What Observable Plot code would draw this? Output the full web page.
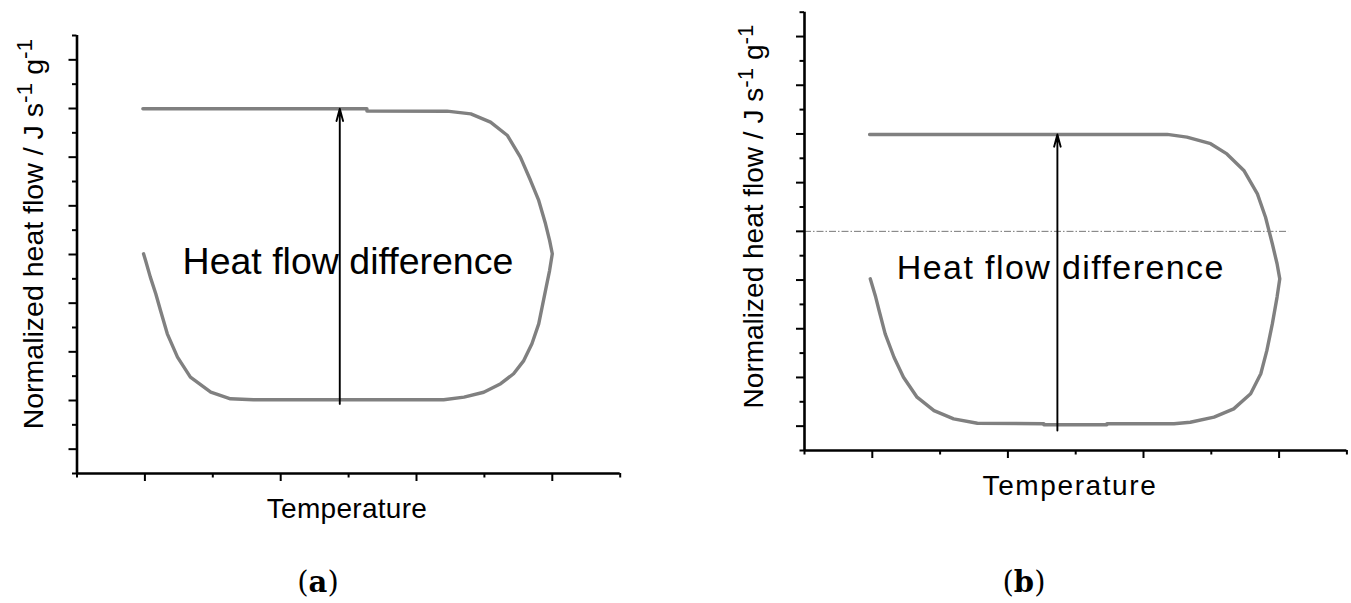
<!DOCTYPE html>
<html><head><meta charset="utf-8">
<script src="https://cdn.jsdelivr.net/npm/d3@7"></script>
<script src="https://cdn.jsdelivr.net/npm/@observablehq/plot@0.6"></script>
<style>
html,body{margin:0;padding:0;background:#fff;}
#wrap{position:relative;width:1351px;height:603px;overflow:hidden;}
#wrap svg{position:absolute;top:0;max-width:none;overflow:visible;}
.panel-label{position:absolute;top:568px;font-family:"DejaVu Serif","Liberation Serif",serif;font-size:29px;line-height:1;color:#000;transform:translateX(-50%);white-space:nowrap;}
.hfd-b text{letter-spacing:1.4px;}
</style></head><body><div id="wrap"></div>
<script>
// ---- data (tick units: x 0..8, y 0..18) ----
const leftCurveX = [0.97,4.27,4.27,5.45,5.80,6.09,6.34,6.53,6.68,6.80,6.90,6.96,7.00,6.96,6.91,6.85,6.80,6.70,6.58,6.43,6.24,5.99,5.70,5.40,2.60,2.26,1.97,1.67,1.48,1.33,1.23,1.16,1.08,1.01,0.98];
const leftCurveY = [14.99,14.99,14.90,14.89,14.78,14.44,13.89,13.00,12.04,11.22,10.26,9.58,9.03,8.34,7.66,6.84,6.15,5.33,4.64,4.10,3.69,3.34,3.14,3.03,3.03,3.07,3.34,3.96,4.78,5.74,6.70,7.39,8.07,8.75,9.03];
const rightCurveX = [0.96,5.35,5.64,5.99,6.23,6.48,6.68,6.80,6.90,6.97,7.01,6.97,6.90,6.82,6.73,6.58,6.33,6.04,5.69,5.45,4.46,4.46,3.53,3.53,2.55,2.20,1.91,1.66,1.46,1.32,1.19,1.10,1.05,0.97];
const rightCurveY = [12.98,12.98,12.87,12.60,12.18,11.50,10.54,9.58,8.49,7.67,7.05,6.30,5.20,4.11,3.15,2.33,1.71,1.37,1.16,1.10,1.10,1.06,1.06,1.10,1.12,1.30,1.64,2.19,3.01,3.83,4.79,5.75,6.30,7.05];
const arrowX = [3.87, 3.73];
const arrowBottom = [2.86, 0.82];
const arrowTop = [14.99, 12.98];
const annotText = ["Heat flow difference", "Heat flow difference"];
const annotX = [3.99, 3.78];
const annotY = [8.71, 7.50];
const dashLevel = [9];
const dashEnd = [7.14];
const xMajor = [1,3,5,7];
const xMinor = [0,2,4,6,8];
const yMajor = [1,3,5,7,9,11,13,15,17];
const yMinor = [0,2,4,6,8,10,12,14,16,18];
const xTitle = "Temperature";
const yTitleMain = "Normalized heat flow / J s";
const panelNames = ["a", "b"];

const wrap = document.getElementById("wrap");
const FONT = "'Liberation Sans', Arial, sans-serif";

function panel(cfg) {
  const curve = cfg.cx.map((x, i) => ({x, y: cfg.cy[i]}));
  const marks = [
    Plot.line(curve, {x: "x", y: "y", stroke: "#808080", strokeWidth: 3.4, strokeLinejoin: "round", strokeLinecap: "round"}),
    Plot.arrow([{x: cfg.ax, y1: cfg.ab, y2: cfg.at}], {x1: "x", x2: "x", y1: "y1", y2: "y2", stroke: "#000", strokeWidth: 1.9, headLength: 10, headAngle: 30}),
    Plot.text([{x: cfg.tx, y: cfg.ty, t: cfg.t}], {x: "x", y: "y", text: "t", fontSize: cfg.tsize, fontFamily: FONT, fill: "#000", textAnchor: "middle", lineAnchor: "middle", className: cfg.tclass}),
    Plot.ruleX([0], {stroke: "#000", strokeWidth: 2.6}),
    Plot.ruleY([0], {stroke: "#000", strokeWidth: 2.6}),
    Plot.axisX({ticks: xMajor, tickSize: 8, strokeWidth: 2, tickFormat: () => "", label: null}),
    Plot.axisX({ticks: xMinor, tickSize: 4.5, strokeWidth: 2, tickFormat: () => "", label: null}),
    Plot.axisY({ticks: yMajor, tickSize: 8, strokeWidth: 2, tickFormat: () => "", label: null}),
    Plot.axisY({ticks: yMinor, tickSize: 4.5, strokeWidth: 2, tickFormat: () => "", label: null})
  ];
  if (cfg.dash) {
    marks.unshift(Plot.ruleY(cfg.dash.map(d => ({y: d, x2: cfg.dashEnd})), {y: "y", x1: 0, x2: "x2", stroke: "#777", strokeWidth: 1, strokeDasharray: "7,2,1.5,2"}));
  }
  const svg = Plot.plot({
    width: cfg.width, height: cfg.height,
    marginLeft: cfg.ml, marginRight: cfg.mr, marginTop: cfg.mt, marginBottom: cfg.mb,
    x: {domain: [0, 8], label: null},
    y: {domain: [0, 18], label: null},
    style: {background: "transparent", fontFamily: FONT, overflow: "visible"},
    marks
  });
  svg.style.left = cfg.left + "px";
  wrap.appendChild(svg);
  const s = d3.select(svg);
  s.append("text")
    .attr("x", cfg.xl[0]).attr("y", cfg.xl[1])
    .attr("text-anchor", "middle").attr("font-family", FONT).attr("font-size", 28)
    .attr("letter-spacing", cfg.xls).attr("fill", "#000").text(xTitle);
  const fs = cfg.ysize;
  const t = s.append("text")
    .attr("transform", `translate(${cfg.yl[0]},${cfg.yl[1]}) rotate(-90)`)
    .attr("text-anchor", "middle").attr("font-family", FONT).attr("font-size", fs).attr("fill", "#000");
  t.append("tspan").text(yTitleMain);
  t.append("tspan").attr("dy", -0.37 * fs).attr("font-size", 0.8 * fs).text("-1");
  t.append("tspan").attr("dy", 0.37 * fs).text(" g");
  t.append("tspan").attr("dy", -0.37 * fs).attr("font-size", 0.8 * fs).text("-1");
}

panel({cx: leftCurveX, cy: leftCurveY, ax: arrowX[0], ab: arrowBottom[0], at: arrowTop[0],
  t: annotText[0], tx: annotX[0], ty: annotY[0], tsize: 37.5, tclass: "hfd-a",
  width: 676, height: 540, ml: 76.5, mr: 56.3, mt: 35, mb: 67, left: 0,
  xl: [347, 518], xls: 0.3, yl: [43, 234], ysize: 28.5});

panel({cx: rightCurveX, cy: rightCurveY, ax: arrowX[1], ab: arrowBottom[1], at: arrowTop[1],
  t: annotText[1], tx: annotX[1], ty: annotY[1], tsize: 34, tclass: "hfd-b",
  dash: dashLevel, dashEnd: dashEnd[0],
  width: 675, height: 540, ml: 128, mr: 4.6, mt: 11.7, mb: 90, left: 676,
  xl: [394, 495], xls: 1.6, yl: [87, 216.5], ysize: 28});

[[318, panelNames[0]], [1024, panelNames[1]]].forEach(([cx, n]) => {
  const d = document.createElement("div");
  d.className = "panel-label";
  d.style.left = cx + "px";
  d.innerHTML = "(<b>" + n + "</b>)";
  wrap.appendChild(d);
});
</script>
</body></html>
